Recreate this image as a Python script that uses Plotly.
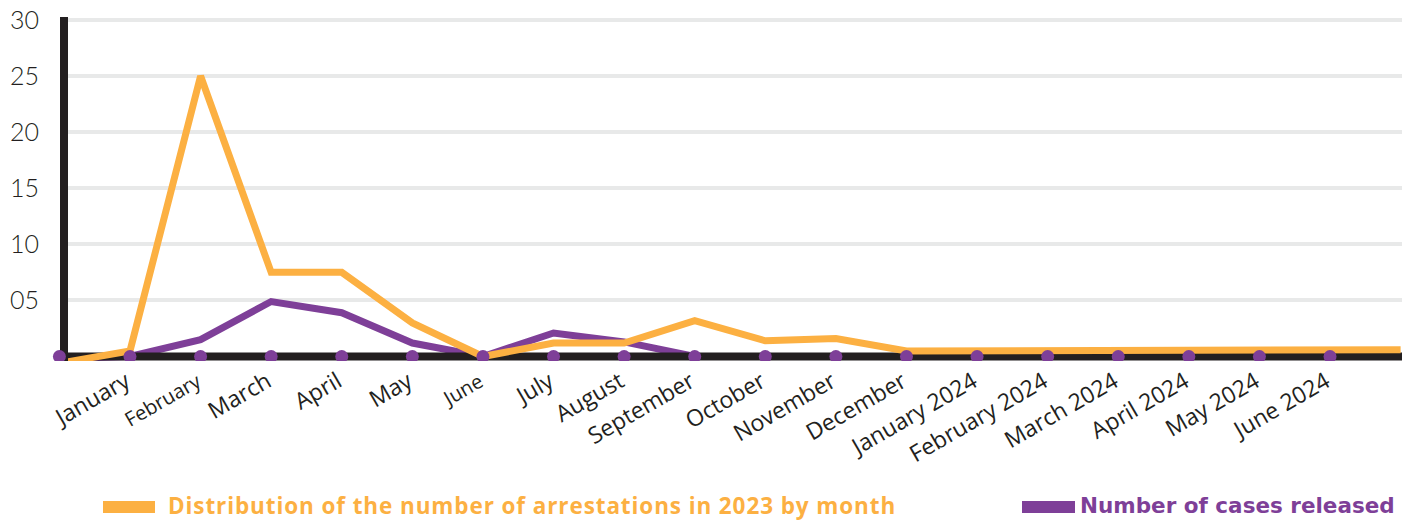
import plotly.graph_objects as go

# ---- data ----
categories = ["", "January", "February", "March", "April", "May", "June", "July",
              "August", "September", "October", "November", "December",
              "January 2024", "February 2024", "March 2024", "April 2024",
              "May 2024", "June 2024", ""]
arrests = [-0.6, 0.5, 25, 7.5, 7.5, 3.0, 0, 1.2, 1.2, 3.2, 1.4, 1.6,
           0.5, 0.5, 0.5, 0.5, 0.5, 0.5, 0.5, 0.6]
released = [-0.2, 0, 1.5, 4.9, 3.9, 1.2, 0, 2.1, 1.3, 0, 0, 0,
            0, 0, 0, 0, 0, 0, 0, 0]
y_tick_vals = [5, 10, 15, 20, 25, 30]
y_tick_text = ["05", "10", "15", "20", "25", "30"]
name_arrests = "Distribution of the number of arrestations in 2023 by month"
name_released = "Number of cases released"
label_sizes = {"February": 20, "June": 20}

# ---- style ----
ORANGE = "#fcb042"
PURPLE = "#7e3f98"
BLACK = "#231f20"
GRID = "#e8e9e9"
W, H = 1402, 526
ML, MR, T, B = 50, 0, 17, 165          # page margins
AX_LEFT = 68                            # pixel where the main plot area starts
PW, PH = W - ML - MR, H - T - B
X0_PX, STEP = 59.4, 70.59               # pixel of first category, pixels per category

idx = list(range(len(categories)))
label_idx = [i for i, c in enumerate(categories) if c]
tick_text = [
    (f'<span style="font-size:{label_sizes[categories[i]]}px">{categories[i]}</span>'
     if categories[i] in label_sizes else categories[i])
    for i in label_idx
]
dot_idx = idx[:-1]

main_dom0 = (AX_LEFT - ML) / PW
x_end = (W - MR - X0_PX) / STEP
x_range = [(AX_LEFT - X0_PX) / STEP, x_end]
x2_range = [(ML - X0_PX) / STEP, x_end]
y_range = [-0.4, 30.26]

fig = go.Figure()
fig.add_trace(go.Scatter(x=idx, y=released, mode="lines", name=name_released,
                         line=dict(color=PURPLE, width=7), showlegend=False))
fig.add_trace(go.Scatter(x=x_range, y=[0, 0], mode="lines", hoverinfo="skip",
                         line=dict(color=BLACK, width=8), showlegend=False))
fig.add_trace(go.Scatter(x=idx, y=arrests, mode="lines", name=name_arrests,
                         line=dict(color=ORANGE, width=7), showlegend=False))
fig.add_trace(go.Scatter(x=dot_idx, y=[0] * len(dot_idx), mode="markers",
                         xaxis="x2", yaxis="y2",
                         marker=dict(color=PURPLE, size=13),
                         hoverinfo="skip", showlegend=False))

def px_x(p):
    return (p - ML) / PW

def px_y(p):
    return (H - B - p) / PH

# legend drawn as swatches + labels
for (x0, x1, col, txt, fam, size, ls, tx) in [
    (103, 155, ORANGE, name_arrests, "Open Sans", 22.5, 0.9, 166),
    (1022, 1075, PURPLE, name_released, "DejaVu Sans", 21.5, 0, 1078),
]:
    fig.add_shape(type="rect", xref="paper", yref="paper",
                  x0=px_x(x0), x1=px_x(x1), y0=px_y(513), y1=px_y(501),
                  fillcolor=col, line=dict(width=0))
    fig.add_annotation(xref="paper", yref="paper", x=px_x(tx), y=px_y(505),
                       xanchor="left", yanchor="middle", showarrow=False,
                       text=f'<span style="letter-spacing:{ls}px"><b>{txt}</b></span>',
                       font=dict(family=fam, size=size, color=col))

fig.update_layout(
    width=W, height=H, margin=dict(l=ML, r=MR, t=T, b=B),
    paper_bgcolor="white", plot_bgcolor="rgba(0,0,0,0)", showlegend=False,
    xaxis=dict(domain=[main_dom0, 1], range=x_range, tickmode="array",
               tickvals=label_idx, ticktext=tick_text,
               tickangle=-30, showgrid=False, zeroline=False, showline=False, ticks="",
               ticklabelshift=-4, ticklabelstandoff=2,
               tickfont=dict(family="Open Sans", size=23, color=BLACK)),
    yaxis=dict(range=y_range, tickmode="array", tickvals=y_tick_vals, ticktext=y_tick_text,
               showgrid=True, gridcolor=GRID, gridwidth=4, zeroline=False,
               showline=True, linecolor=BLACK, linewidth=8, layer="below traces", ticks="",
               tickfont=dict(family="Lato", size=25, color=BLACK, weight=300),
               ticklabelstandoff=16),
    xaxis2=dict(domain=[0, 1], range=x2_range, anchor="y2", visible=False),
    yaxis2=dict(domain=[0, 1], range=y_range, anchor="x2", visible=False),
)

fig.write_html("out.html")
